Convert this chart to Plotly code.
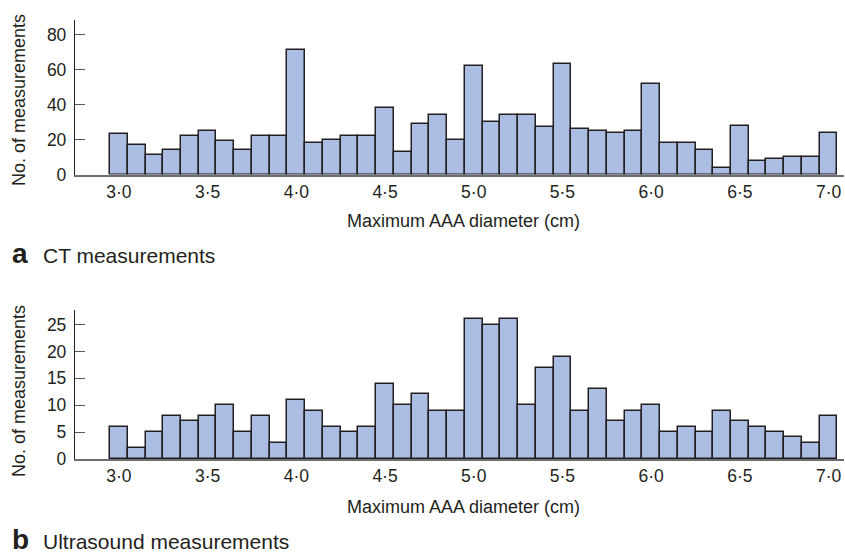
import plotly.graph_objects as go

# Bin centres (cm)
diameters = [round(3.0 + 0.1 * i, 1) for i in range(41)]

ct_counts = [23, 17, 11, 14, 22, 25, 19, 14, 22, 22,
             71, 18, 20, 22, 22, 38, 13, 29, 34, 20,
             62, 30, 34, 34, 27, 63, 26, 25, 24, 25,
             52, 18, 18, 14, 4, 28, 8, 9, 10, 10, 24]

us_counts = [6, 2, 5, 8, 7, 8, 10, 5, 8, 3,
             11, 9, 6, 5, 6, 14, 10, 12, 9, 9,
             26, 25, 26, 10, 17, 19, 9, 13, 7, 9,
             10, 5, 6, 5, 9, 7, 6, 5, 4, 3, 8]

x_tickvals = [3.0, 3.5, 4.0, 4.5, 5.0, 5.5, 6.0, 6.5, 7.0]
x_ticktext = ["3·0", "3·5", "4·0", "4·5", "5·0", "5·5", "6·0", "6·5", "7·0"]
ct_yticks = [0, 20, 40, 60, 80]
us_yticks = [0, 5, 10, 15, 20, 25]

x_title = "Maximum AAA diameter (cm)"
y_title = "No. of measurements"

W, H = 845, 554
FONT = "Liberation Sans, Arial, Helvetica, sans-serif"
TXT = "#231f20"
BAR = "#abbde3"
EDGE = "#231f20"

def px_x(p):
    return p / W

def px_y(p):
    return 1 - p / H

fig = go.Figure()
fig.add_trace(go.Bar(x=diameters, y=ct_counts, xaxis="x", yaxis="y",
                     marker=dict(color=BAR, line=dict(color=EDGE, width=1.5)),
                     width=0.1, showlegend=False))
fig.add_trace(go.Bar(x=diameters, y=us_counts, xaxis="x2", yaxis="y2",
                     marker=dict(color=BAR, line=dict(color=EDGE, width=1.5)),
                     width=0.1, showlegend=False))

xdom = [px_x(75), px_x(844)]
xrange = [2.7525, 7.087]

common_x = dict(range=xrange, domain=xdom, showline=True, linecolor="#6d6e71",
                linewidth=2, ticks="", tickvals=x_tickvals, ticktext=x_ticktext,
                showgrid=False, zeroline=False, fixedrange=True, automargin=False,
                tickfont=dict(family=FONT, size=17.5, color=TXT),
                ticklabelstandoff=0)
common_y = dict(showline=True, linecolor=TXT, linewidth=1.3, ticks="inside",
                ticklen=10, tickcolor="#555555", tickwidth=1.3,
                showgrid=False, zeroline=False, fixedrange=True, automargin=False,
                tickfont=dict(family=FONT, size=17.5, color=TXT),
                ticklabelstandoff=4)

fig.update_layout(
    width=W, height=H,
    margin=dict(l=0, r=0, t=0, b=0),
    paper_bgcolor="white", plot_bgcolor="white",
    bargap=0,
    xaxis=dict(**common_x, anchor="y"),
    yaxis=dict(**common_y, anchor="x", range=[0, 88.3], tickvals=ct_yticks,
               domain=[px_y(174.5), px_y(20)]),
    xaxis2=dict(**common_x, anchor="y2"),
    yaxis2=dict(**common_y, anchor="x2", range=[0, 27.7], tickvals=us_yticks,
                domain=[px_y(459), px_y(310)]),
)

ann = []
for yc_title, yc_ylab, yc_cap, letter, cap in [
        (221, 100, 255, "a", "CT measurements"),
        (507, 391, 541, "b", "Ultrasound measurements")]:
    ann.append(dict(text=x_title, x=px_x(464), y=px_y(yc_title), xref="paper", yref="paper",
                    xanchor="center", yanchor="middle", showarrow=False,
                    font=dict(family=FONT, size=18, color=TXT)))
    ann.append(dict(text=y_title, x=px_x(19), y=px_y(yc_ylab), xref="paper", yref="paper",
                    xanchor="center", yanchor="middle", showarrow=False, textangle=-90,
                    font=dict(family=FONT, size=18, color=TXT)))
    ann.append(dict(text="<b>" + letter + "</b>", x=px_x(10), y=px_y(yc_cap - 2), xref="paper",
                    yref="paper", xanchor="left", yanchor="middle", showarrow=False,
                    font=dict(family=FONT, size=28, color=TXT)))
    ann.append(dict(text=cap, x=px_x(41), y=px_y(yc_cap), xref="paper", yref="paper",
                    xanchor="left", yanchor="middle", showarrow=False,
                    font=dict(family=FONT, size=21, color=TXT)))
fig.update_layout(annotations=ann)

fig.write_html("out.html", config={"displayModeBar": False},
               post_script="document.body.style.margin='0';document.body.style.overflow='hidden';")
